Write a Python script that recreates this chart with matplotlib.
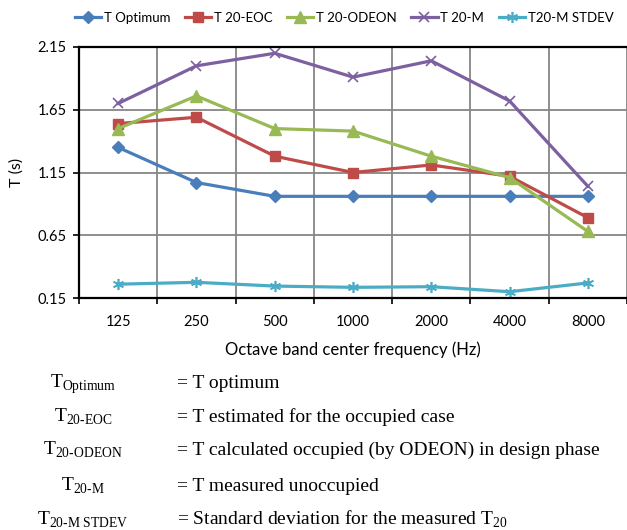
import numpy as np
import matplotlib
matplotlib.use('Agg')
import matplotlib.pyplot as plt

plt.rcParams['font.family'] = ['Lato', 'DejaVu Sans']
plt.rcParams['mathtext.fontset'] = 'custom'
plt.rcParams['mathtext.rm'] = 'Liberation Serif'

freqs = ['125', '250', '500', '1000', '2000', '4000', '8000']
t_optimum = [1.35, 1.07, 0.96, 0.96, 0.96, 0.96, 0.96]
t20_eoc = [1.54, 1.59, 1.28, 1.15, 1.21, 1.12, 0.79]
t20_odeon = [1.50, 1.76, 1.50, 1.48, 1.28, 1.11, 0.68]
t20_m = [1.70, 2.00, 2.10, 1.91, 2.04, 1.72, 1.04]
t20_m_stdev = [0.26, 0.275, 0.245, 0.235, 0.24, 0.20, 0.27]

yticks = [0.15, 0.65, 1.15, 1.65, 2.15]

# legend / key text below the chart
key_syms = [r'$\mathrm{T}_{\text{Optimum}}$', r'$\mathrm{T}_{\text{20-EOC}}$',
            r'$\mathrm{T}_{\text{20-ODEON}}$', r'$\mathrm{T}_{\text{20-M}}$',
            r'$\mathrm{T}_{\text{20-M STDEV}}$']
key_desc = ['= T optimum', '= T estimated for the occupied case',
            '= T calculated occupied (by ODEON) in design phase',
            '= T measured unoccupied',
            r'= Standard deviation for the measured T$_{\text{20}}$']

fig = plt.figure(figsize=(6.27, 5.30), dpi=100)
ax = fig.add_axes([79/627, 1 - 298/530, 1 - 79/627, (298 - 47)/530])

x = np.arange(len(freqs))
lw = 2.3
ax.plot(x, t_optimum, color='#4A7EBB', lw=lw, marker='D', ms=6, label='T Optimum')
ax.plot(x, t20_eoc, color='#BE4B48', lw=lw, marker='s', ms=7, label='T 20-EOC')
ax.plot(x, t20_odeon, color='#98B954', lw=lw, marker='^', ms=8, label='T 20-ODEON')
ax.plot(x, t20_m, color='#7D60A0', lw=lw, marker='x', ms=7, mew=1.2, label='T 20-M')
ax.plot(x, t20_m_stdev, color='#4BACC6', lw=lw, marker=(6, 2, 0), ms=8, mew=1.2,
        label='T20-M STDEV')

ax.set_xlim(-0.5, 6.5)
ax.set_ylim(0.15, 2.15)
ax.set_yticks(yticks)
ax.set_yticklabels(['%.2f' % v for v in yticks])
ax.set_xticks(np.arange(-0.5, 7, 1))
ax.set_xticklabels([])
ax.set_xticks(x, minor=True)
ax.set_xticklabels(freqs, minor=True)
ax.tick_params(axis='x', which='minor', length=0, pad=12, labelsize=10.5)
ax.tick_params(axis='both', which='major', length=4, width=1.2, labelsize=10.5)
ax.tick_params(axis='y', pad=5)

ax.grid(True, which='major', color='#868686', lw=1.3)
ax.set_axisbelow(True)
for s in ['top', 'bottom', 'left']:
    ax.spines[s].set_linewidth(1.6)
    ax.spines[s].set_zorder(3)
ax.spines['right'].set_visible(False)

ax.set_xlabel('Octave band center frequency (Hz)', fontsize=12, labelpad=9)
ax.set_ylabel('T (s)', fontsize=11.5, labelpad=10)

fig.legend(loc='center', bbox_to_anchor=(344/627, 1 - 18/530), ncol=5, frameon=False,
           fontsize=9.5, handlelength=2.0, handletextpad=0.2, columnspacing=1.1)

baselines = [388, 422, 455, 491, 525]
for sym, desc, yb in zip(key_syms, key_desc, baselines):
    fig.text(83/627, 1 - yb/530, sym, ha='center', va='baseline', fontsize=14,
             family='Liberation Serif')
    fig.text(177/627, 1 - yb/530, desc, ha='left', va='baseline', fontsize=14,
             family='Liberation Serif')

fig.savefig('out.png', dpi=100)
